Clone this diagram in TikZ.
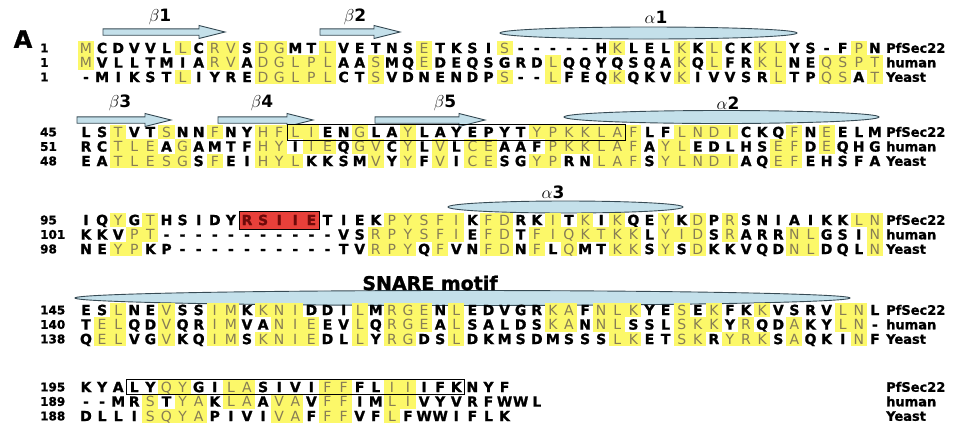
\documentclass[tikz,border=0pt]{standalone}
\usepackage{fontspec}
\setmainfont{DejaVu Sans}
\newfontfamily\resfont{DejaVu Sans}[BoldFeatures={FakeBold=1.2}]
\usetikzlibrary{shapes.geometric}
\definecolor{hlyel}{RGB}{252,248,105}
\definecolor{hltext}{RGB}{135,125,85}
\definecolor{ssblue}{RGB}{196,224,234}
\definecolor{ssline}{RGB}{55,75,85}
\definecolor{redbox}{RGB}{232,64,58}
\definecolor{redtext}{RGB}{110,10,10}
\makeatletter
\def\colx{86}\def\colw{16.1}\def\cellh{14.6}
\newcount\sqcol
\newcommand\seqrow[4]{\global\sqcol=#3\relax\def\sqy{#2}\def\sqid{#1}\sq@loop#4\relax}
\def\sq@loop#1{\ifx#1\relax\else\sq@cell#1\global\advance\sqcol by 1\relax\expandafter\sq@loop\fi}
\def\sq@cell#1{%
 \pgfmathsetmacro\sqx{\colx+\colw*\the\sqcol}%
 \edef\sqname{\sqid-\the\sqcol}%
 \ifnum`#1>96\relax
  \fill[hlyel] (\sqx-\colw/2,\sqy-\cellh/2) rectangle (\sqx+\colw/2,\sqy+\cellh/2);
  \node[hlres] (\sqname) at (\sqx,\sqy) {\uppercase{#1}};
 \else
  \node[res] (\sqname) at (\sqx,\sqy) {#1};
 \fi}
\makeatother
\newcommand\strand[3]{%
 \draw[strandarrow] (#1,#3-3.2) -- (#2-26,#3-3.2) -- (#2-26,#3-6.5) -- (#2,#3) -- (#2-26,#3+6.5) -- (#2-26,#3+3.2) -- (#1,#3+3.2) -- cycle;}
\begin{document}
\begin{tikzpicture}[x=1pt,y=-1pt,
 res/.style={font=\resfont\bfseries\fontsize{14}{14}\selectfont,inner sep=0pt,text height=10.2pt,text depth=0pt},
 hlres/.style={font=\resfont\fontsize{14}{14}\selectfont,text=hltext,inner sep=0pt,text height=10.2pt,text depth=0pt},
 num/.style={font=\resfont\bfseries\fontsize{12}{12}\selectfont,anchor=west,inner sep=0pt,text height=8.7pt,text depth=0pt},
 spec/.style={font=\resfont\bfseries\fontsize{13}{14}\selectfont,anchor=west,inner sep=0pt,text height=9.5pt,text depth=0pt},
 sslab/.style={font=\fontsize{17}{18}\selectfont,inner sep=0pt},
 helix/.style={ellipse,draw=ssline,fill=ssblue,line width=0.9pt,inner sep=0pt},
 strandarrow/.style={draw=ssline,fill=ssblue,line width=0.9pt},
 seqbox/.style={draw=black,line width=0.8pt,inner sep=0pt}]
\fill[white] (0,0) rectangle (956,440);
\useasboundingbox (0,0) rectangle (956,440);

\node[font=\resfont\bfseries\fontsize{24}{24}\selectfont,inner sep=0pt] (panelA) at (23,39) {A};

% ---------- block 1 ----------
\strand{103}{225}{32}
\strand{320}{400}{32}
\node[helix,minimum width=297,minimum height=12] (h1) at (648.5,33) {};
\node[sslab] (lb1) at (160,17) {$\beta$\textbf{1}};
\node[sslab] (lb2) at (355,17) {$\beta$\textbf{2}};
\node[sslab] (la1) at (656,17) {$\alpha$\textbf{1}};
\seqrow{a1}{48}{0}{mCDVVLlCrvSdgMTlVETNSeTKSIs-----HkLELkKlCKklYS-FpN}
\seqrow{a2}{62.5}{0}{mVLLTMIArvAdglplAAsMQeDEQSGRDlQQYQSQAkQlFRklNEqspt}
\seqrow{a3}{77}{0}{-MIKSTlIYREdglplCTsVDNENDPs--lFEQkQKVkIVVSRlTPqsAt}
\node[num] (na1) at (40,48) {1};
\node[num] (na2) at (40,62.5) {1};
\node[num] (na3) at (40,77) {1};
\node[spec] (sa1) at (886,48) {PfSec22};
\node[spec] (sa2) at (886,62.5) {human};
\node[spec] (sa3) at (886,77) {Yeast};

% ---------- block 2 ----------
\strand{77}{171}{120}
\strand{218}{313}{120}
\strand{375}{485}{120}
\node[helix,minimum width=315,minimum height=13] (h2) at (721.5,117) {};
\node[sslab] (lb3) at (120,103) {$\beta$\textbf{3}};
\node[sslab] (lb4) at (262,103) {$\beta$\textbf{4}};
\node[sslab] (lb5) at (445,103) {$\beta$\textbf{5}};
\node[sslab] (la2) at (728,103) {$\alpha$\textbf{2}};
\seqrow{b1}{132}{0}{LStVTsNNfNYhfliENgLAyLAYEPYTypkklafLFlndiCKQfNeELM}
\seqrow{b2}{146.5}{0}{RCtleAgAMTFhyIieQgvCyLvLceAAFpkklafAylEDLHSefDeQHG}
\seqrow{b3}{161}{0}{EAtlesgSfEIhylKKSMvYyFvIceSGypRNlafSylndiAQefEHSFA}
\node[seqbox,minimum width=338.1,minimum height=16] (box2) at (456.3,132) {};
\node[num] (nb1) at (40,132) {45};
\node[num] (nb2) at (40,146.5) {51};
\node[num] (nb3) at (40,161) {48};
\node[spec] (sb1) at (886,132) {PfSec22};
\node[spec] (sb2) at (886,146.5) {human};
\node[spec] (sb3) at (886,161) {Yeast};

% ---------- block 3 ----------
\node[helix,minimum width=235,minimum height=12] (h3) at (565.5,207) {};
\node[sslab] (la3) at (553,192) {$\alpha$\textbf{3}};
\node[draw=black,fill=redbox,line width=0.8pt,minimum width=80.5,minimum height=18,inner sep=0pt] (rbox) at (279.2,220) {};
\seqrow{c1}{220}{0}{IQyGtHSIDY}
\begin{scope}[res/.append style={text=redtext}]
\seqrow{c1}{220}{10}{RSIIE}
\end{scope}
\seqrow{c1}{220}{15}{TIEKpysfiKfdRKiTkIkQEyKdPrSNIAIKKln}
\seqrow{c2}{234.5}{0}{KKVpt-----------VSrpysfiEfdTfiqktkkLyidSrARRnlGSIn}
\seqrow{c3}{249}{0}{NEypKP----------TVrpyQfVNfdNfLqMTkkSySdKKVQDnlDQLn}
\node[num] (nc1) at (40,220) {95};
\node[num] (nc2) at (40,234.5) {101};
\node[num] (nc3) at (40,249) {98};
\node[spec] (sc1) at (886,220) {PfSec22};
\node[spec] (sc2) at (886,234.5) {human};
\node[spec] (sc3) at (886,249) {Yeast};

% ---------- block 4 ----------
\node[helix,minimum width=775,minimum height=15] (h4) at (462.5,298) {};
\node[font=\resfont\bfseries\fontsize{19}{20}\selectfont,inner sep=0pt] (snare) at (430,283) {SNARE motif};
\seqrow{d1}{310}{0}{ESlNEvSSimKkniDDIlMrgeNlEDVGRkaFnlkYEsEkFKkVSRVlnL}
\seqrow{d2}{324.5}{0}{TelQDvQRimVAnieEVlQrgeAlSALDSkaNnlSSLskkYrQDaKYln-}
\seqrow{d3}{339}{0}{QelVGvKQimSknieDLlYrgDSlDKMSDMSSSlkETskRyrkSaQKInF}
\node[num] (nd1) at (40,310) {145};
\node[num] (nd2) at (40,324.5) {140};
\node[num] (nd3) at (40,339) {138};
\node[spec] (sd1) at (886,310) {PfSec22};
\node[spec] (sd2) at (886,324.5) {human};
\node[spec] (sd3) at (886,339) {Yeast};

% ---------- block 5 ----------
\seqrow{e1}{387}{0}{KYALYqyGIlaSIVIffFLiiIFKNYF}
\seqrow{e2}{401.5}{0}{--MRsTyaKlaAvaVffIMliVYVRFWWL}
\seqrow{e3}{416}{0}{DLLIsqyaPIVIvaFffVFlFWWIFLK}
\node[seqbox,minimum width=338.1,minimum height=15] (box5) at (295.3,387) {};
\node[num] (ne1) at (40,387) {195};
\node[num] (ne2) at (40,401.5) {189};
\node[num] (ne3) at (40,416) {188};
\node[spec] (se1) at (886,387) {PfSec22};
\node[spec] (se2) at (886,401.5) {human};
\node[spec] (se3) at (886,416) {Yeast};
\end{tikzpicture}
\end{document}
